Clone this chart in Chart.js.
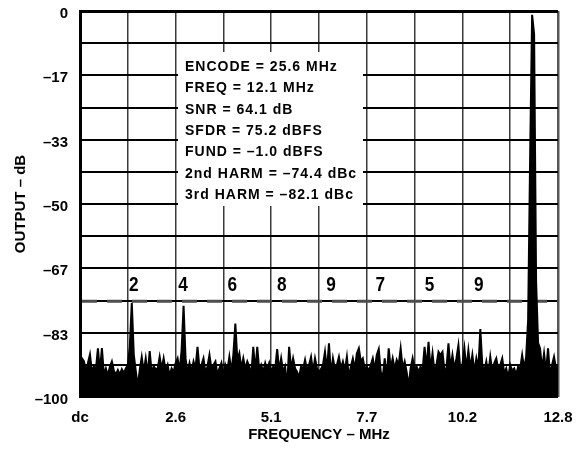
<!DOCTYPE html>
<html>
<head>
<meta charset="utf-8">
<script src="https://cdn.jsdelivr.net/npm/chart.js@4.4.1/dist/chart.umd.min.js"></script>
<style>
  html, body { margin: 0; padding: 0; background: #fff; }
  #wrap { width: 587px; height: 451px; }
</style>
</head>
<body>
<div id="wrap"><canvas id="fftChart" width="587" height="451"></canvas></div>
<script>
// FFT plot, 241 bins from dc to 12.8 MHz
const spanMHz = 12.8;
const outputDb = [
  -92.0, -90.0, -90.8, -93.5, -91.2, -89.0, -93.5, -92.1, -92.8, -87.4,
  -93.5, -87.3, -94.2, -92.6, -94.5, -92.1, -90.8, -93.2, -94.2, -93.0,
  -94.2, -92.8, -93.8, -92.6, -91.7, -87.0, -75.6, -89.0, -93.2, -97.3,
  -93.0, -89.7, -93.5, -90.0, -94.2, -88.1, -93.8, -92.1, -92.8, -92.6,
  -89.6, -92.8, -90.0, -93.2, -91.7, -94.5, -92.6, -93.5, -91.2, -90.0,
  -93.2, -88.0, -76.4, -90.0, -93.8, -91.2, -93.5, -90.8, -92.6, -87.0,
  -92.8, -91.7, -90.0, -93.8, -92.1, -89.1, -92.8, -91.7, -90.8, -94.2,
  -92.6, -91.2, -94.5, -91.7, -93.2, -89.6, -93.5, -89.0, -81.0, -90.5,
  -88.7, -92.6, -90.0, -92.8, -90.8, -92.1, -94.5, -87.0, -93.5, -87.0,
  -93.2, -91.7, -93.5, -91.2, -93.0, -91.2, -93.5, -92.1, -92.8, -87.6,
  -93.2, -90.0, -93.5, -92.1, -97.7, -87.0, -92.8, -90.0, -92.6, -93.5,
  -95.0, -92.1, -92.8, -90.4, -93.2, -91.7, -89.6, -93.5, -90.0, -92.6,
  -93.5, -92.8, -91.7, -88.3, -93.2, -86.1, -94.2, -90.0, -92.8, -91.7,
  -89.6, -92.6, -90.8, -93.2, -89.6, -95.0, -92.1, -90.0, -92.8, -88.7,
  -87.4, -90.8, -90.0, -92.8, -92.1, -93.2, -91.7, -90.0, -93.0, -89.1,
  -87.6, -93.5, -95.0, -90.0, -95.5, -87.4, -92.6, -90.0, -92.8, -90.4,
  -91.7, -87.4, -92.6, -90.8, -93.5, -97.3, -92.6, -90.0, -92.8, -92.1,
  -93.5, -92.1, -93.2, -87.0, -92.6, -85.7, -92.8, -88.7, -93.8, -91.7,
  -88.3, -89.1, -88.3, -93.2, -92.6, -86.1, -92.6, -89.1, -92.8, -90.0,
  -86.6, -93.2, -91.7, -87.4, -92.8, -87.9, -92.6, -89.1, -93.5, -90.0,
  -92.6, -82.4, -91.7, -93.2, -90.8, -94.2, -89.6, -93.5, -91.2, -90.0,
  -92.8, -91.7, -90.0, -93.8, -92.6, -95.0, -91.7, -93.2, -92.6, -94.2,
  -92.1, -92.8, -89.1, -92.6, -89.6, -80.0, -38.0, -1.0, -6.0, -70.0,
  -86.0, -87.4, -92.8, -88.7, -93.5, -87.4, -94.5, -91.7, -89.6, -92.6,
  -91.7
];
const xTickLabels = ['dc', '2.6', '5.1', '7.7', '10.2', '12.8'];
const yTickLabels = ['–100', '–83', '–67', '–50', '–33', '–17', '0'];
const harmonicLabels = ['2', '4', '6', '8', '9', '7', '5', '9'];
const infoLines = [
  'ENCODE = 25.6 MHz',
  'FREQ = 12.1 MHz',
  'SNR = 64.1 dB',
  'SFDR = 75.2 dBFS',
  'FUND = –1.0 dBFS',
  '2nd HARM = –74.4 dBc',
  '3rd HARM = –82.1 dBc'
];
const sfdrDb = -75.2;

const binMHz = spanMHz / (outputDb.length - 1);
const points = outputDb.map((v, i) => ({ x: i * binMHz, y: v }));

// 10 vertical and 12 horizontal divisions
const xGrid = [];
for (let i = 0; i <= 10; i++) xGrid.push(i * spanMHz / 10);
const yGrid = [];
for (let i = 0; i <= 12; i++) yGrid.push(-100 + i * 100 / 12);

Chart.defaults.font.family = '"Liberation Sans", Arial, sans-serif';
Chart.defaults.font.size = 15;
Chart.defaults.font.weight = 'bold';
Chart.defaults.color = '#000';

// white text box, dashed SFDR line, harmonic numbers
const annotate = {
  id: 'annotate',
  beforeDatasetsDraw(chart) {
    const { ctx, chartArea: a, scales: { y } } = chart;
    ctx.save();
    const yy = y.getPixelForValue(sfdrDb);
    ctx.strokeStyle = '#4d4d4d';
    ctx.lineWidth = 3;
    ctx.setLineDash([15, 10]);
    ctx.beginPath();
    ctx.moveTo(a.left + 2, yy);
    ctx.lineTo(a.right, yy);
    ctx.stroke();
    ctx.setLineDash([]);

    ctx.fillStyle = '#000';
    ctx.textBaseline = 'alphabetic';
    ctx.font = 'bold 21px "Liberation Sans", Arial, sans-serif';
    harmonicLabels.forEach((t, i) => {
      ctx.save();
      ctx.translate(a.left + 49 + i * 49.3, a.top + 280);
      ctx.scale(0.82, 1);
      ctx.fillText(t, 0, 0);
      ctx.restore();
    });

    ctx.fillStyle = '#fff';
    ctx.fillRect(a.left + 98, a.top + 41, 185, 154);
    ctx.fillStyle = '#000';
    ctx.font = 'bold 14px "Liberation Sans", Arial, sans-serif';
    ctx.letterSpacing = '1px';
    infoLines.forEach((t, i) => ctx.fillText(t, a.left + 105, a.top + 60 + i * 21.3));
    ctx.restore();
  }
};

new Chart(document.getElementById('fftChart'), {
  type: 'line',
  data: {
    datasets: [{
      data: points,
      borderColor: '#000',
      backgroundColor: '#000',
      borderWidth: 2,
      pointRadius: 0,
      tension: 0,
      fill: 'start'
    }]
  },
  options: {
    responsive: false,
    animation: false,
    events: [],
    layout: { padding: { top: 11, right: 29, left: 0, bottom: 0 } },
    plugins: { legend: { display: false }, tooltip: { enabled: false } },
    scales: {
      x: {
        type: 'linear',
        min: 0,
        max: spanMHz,
        afterBuildTicks: s => { s.ticks = xGrid.map(v => ({ value: v })); },
        afterFit: s => { s.height = 54; s.paddingLeft = 0; s.paddingRight = 0; },
        ticks: {
          autoSkip: false,
          maxRotation: 0,
          padding: 12,
          callback: (v, i) => (i % 2 === 0 ? xTickLabels[i / 2] : '')
        },
        grid: {
          drawTicks: false,
          color: c => (c.index === 10 ? '#555' : '#3a3a3a'),
          lineWidth: c => (c.index === 10 ? 2.5 : 1.5)
        },
        border: { display: false },
        title: { display: true, text: 'FREQUENCY – MHz', font: { size: 15, weight: 'bold' }, padding: { top: 0, bottom: 7 } }
      },
      y: {
        min: -100,
        max: 0,
        afterBuildTicks: s => { s.ticks = yGrid.map(v => ({ value: v })); },
        afterFit: s => { s.width = 80; s.paddingTop = 0; s.paddingBottom = 0; },
        ticks: {
          autoSkip: false,
          padding: 12,
          labelOffset: 3,
          callback: (v, i) => (i % 2 === 0 ? yTickLabels[i / 2] : '')
        },
        grid: {
          drawTicks: false,
          color: '#000',
          lineWidth: c => (c.index === 12 ? 3 : 2)
        },
        border: { display: true, color: '#000', width: 3 },
        title: { display: true, text: 'OUTPUT – dB', font: { size: 15, weight: 'bold' }, padding: { top: 12, bottom: 0 } }
      }
    }
  },
  plugins: [annotate]
});
</script>
</body>
</html>
